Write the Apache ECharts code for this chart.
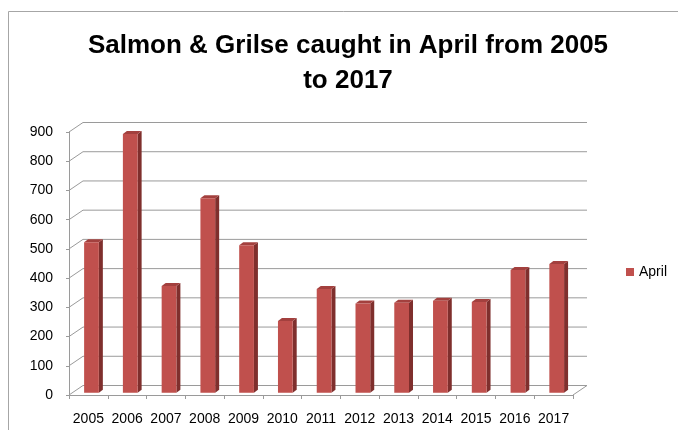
<!DOCTYPE html>
<html>
<head>
<meta charset="utf-8">
<script src="https://cdn.jsdelivr.net/npm/echarts@6/dist/echarts.min.js"></script>
<style>
html, body { margin: 0; padding: 0; background: #fff; }
#chart { width: 678px; height: 430px; }
</style>
</head>
<body>
<div id="chart"></div>
<script>
var years = ['2005', '2006', '2007', '2008', '2009', '2010', '2011', '2012', '2013', '2014', '2015', '2016', '2017'];
var aprilCatch = [515, 885, 365, 665, 505, 245, 355, 305, 308, 315, 310, 420, 440];
var yTicks = [0, 100, 200, 300, 400, 500, 600, 700, 800, 900];

var FONT = 'Liberation Sans, Arial, sans-serif';
var GRID_COLOR = '#9a9a9a';
// back wall offset of the fake 3d box
var depthX = 14, depthY = -9.5;

function renderWall(params, api) {
    var cs = params.coordSys;
    var val = api.value(1);
    var y = api.coord([0, val])[1];
    var x0 = cs.x, x1 = cs.x + cs.width;
    var children = [{
        type: 'polyline',
        shape: { points: [[x0, y], [x0 + depthX, y + depthY], [x1 + depthX, y + depthY]] },
        style: { stroke: GRID_COLOR, lineWidth: 1, fill: null }
    }];
    if (val === 0) {
        // right edge of the floor
        children.push({
            type: 'line',
            shape: { x1: x1, y1: y, x2: x1 + depthX, y2: y + depthY },
            style: { stroke: GRID_COLOR, lineWidth: 1 }
        });
    }
    return { type: 'group', silent: true, children: children };
}

function renderBar(params, api) {
    var i = api.value(0), v = api.value(1);
    var top = api.coord([i, v]);
    var base = api.coord([i, 0]);
    var band = api.size([1, 0])[0];
    var w = band * 0.38;
    var cx = top[0] + band * 0.08;
    var xl = cx - w / 2, xr = cx + w / 2;
    var lift = 2.3;
    var yt = top[1] - lift, yb = base[1] - lift;
    var sx = 4, sy = -3;
    return {
        type: 'group',
        children: [{
            type: 'polygon',
            shape: { points: [[xr, yt], [xr + sx, yt + sy], [xr + sx, yb + sy], [xr, yb]] },
            style: { fill: '#7f2f2d' }
        }, {
            type: 'polygon',
            shape: { points: [[xl, yt], [xl + sx, yt + sy], [xr + sx, yt + sy], [xr, yt]] },
            style: { fill: '#a3403e' }
        }, {
            type: 'rect',
            shape: { x: xl, y: yt, width: w, height: yb - yt },
            style: { fill: '#c0504d' }
        }]
    };
}

var wallData = [];
for (var k = 0; k < yTicks.length; k++) {
    wallData.push([0, yTicks[k]]);
}
var barData = [];
for (var j = 0; j < years.length; j++) {
    barData.push([j, aprilCatch[j]]);
}

var chart = echarts.init(document.getElementById('chart'));
chart.setOption({
    animation: false,
    backgroundColor: '#fff',
    textStyle: { fontFamily: FONT },
    title: [{
        text: 'Salmon & Grilse caught in April from 2005',
        left: 348, top: 33, textAlign: 'center', padding: 0,
        textStyle: { fontSize: 26, fontWeight: 'bold', color: '#000', fontFamily: FONT }
    }, {
        text: 'to 2017',
        left: 348, top: 68, textAlign: 'center', padding: 0,
        textStyle: { fontSize: 26, fontWeight: 'bold', color: '#000', fontFamily: FONT }
    }],
    graphic: [{
        type: 'rect',
        shape: { x: 8.5, y: 11.5, width: 700, height: 450 },
        style: { fill: null, stroke: '#a6a6a6', lineWidth: 1 },
        silent: true, z: -10
    }],
    legend: {
        data: ['April'],
        left: 626, top: 265, padding: 0,
        icon: 'rect', itemWidth: 8, itemHeight: 8,
        textStyle: { fontSize: 14, color: '#000', fontFamily: FONT }
    },
    grid: { left: 69, right: 105, top: 132, bottom: 35 },
    xAxis: {
        type: 'category',
        data: years,
        boundaryGap: true,
        axisLine: { show: true, lineStyle: { color: GRID_COLOR } },
        axisTick: { show: true, length: 4, lineStyle: { color: GRID_COLOR } },
        axisLabel: { fontSize: 14, color: '#000', margin: 17, interval: 0 },
        splitLine: { show: false }
    },
    yAxis: {
        type: 'value',
        min: 0, max: 900, interval: 100,
        axisLine: { show: true, lineStyle: { color: GRID_COLOR } },
        axisTick: { show: true, length: 3, lineStyle: { color: GRID_COLOR } },
        axisLabel: { fontSize: 14, color: '#000', margin: 16 },
        splitLine: { show: false }
    },
    series: [{
        name: 'wall',
        type: 'custom',
        renderItem: renderWall,
        data: wallData,
        silent: true,
        z: 1
    }, {
        name: 'April',
        type: 'custom',
        renderItem: renderBar,
        data: barData,
        itemStyle: { color: '#c0504d' },
        z: 3
    }]
});
</script>
</body>
</html>
